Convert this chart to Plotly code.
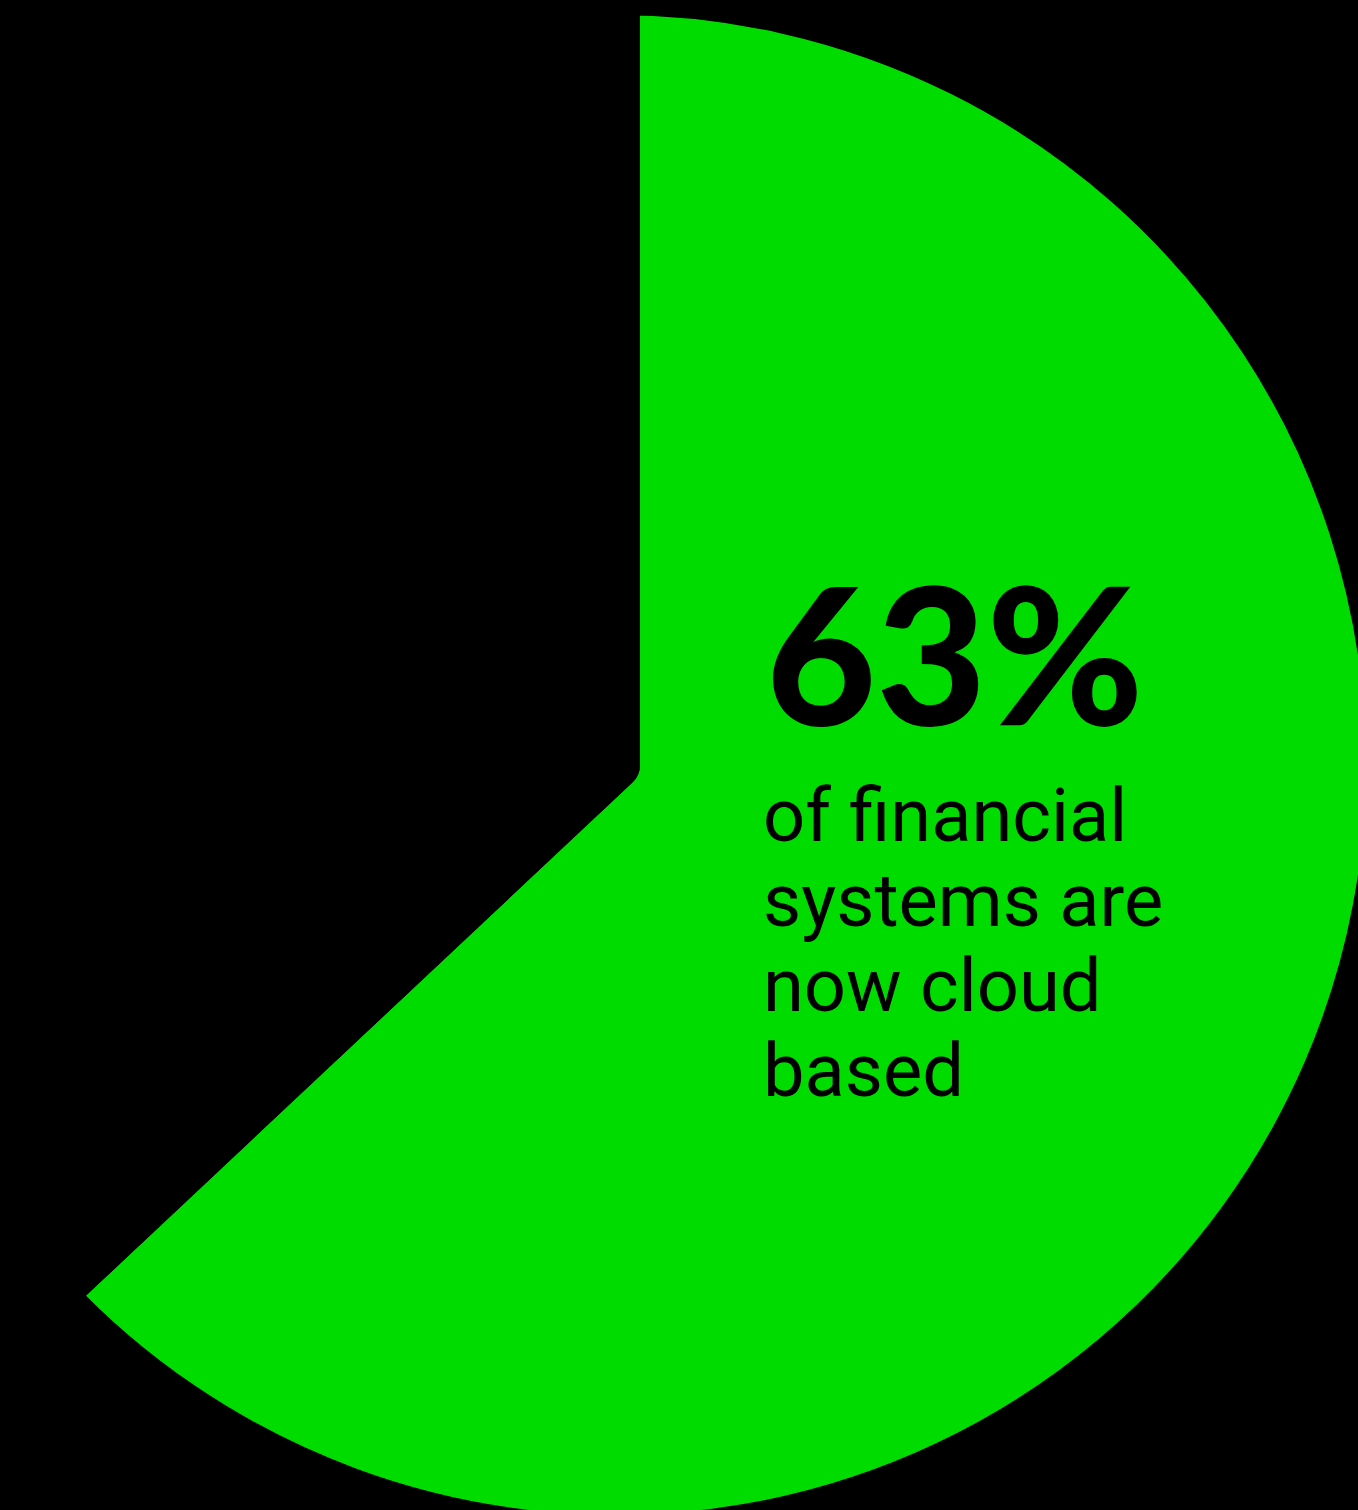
import plotly.graph_objects as go

# ---- data ----
labels = ["Cloud based", "Not cloud based"]
values = [63, 37]
colors = ["#00dc00", "#000000"]
headline = "63%"
body_lines = ["of financial", "systems are", "now cloud", "based"]

# ---- geometry of the (oversized) figure, shifted on the page ----
FIG = 1548          # square figure; pie radius = FIG/2
SHIFT_X, SHIFT_Y = 158, 9


def px(x):
    return (x + SHIFT_X) / FIG


def py(y):
    return 1 - (y + SHIFT_Y) / FIG


fig = go.Figure(
    go.Pie(
        labels=labels,
        values=values,
        sort=False,
        direction="clockwise",
        rotation=0,
        marker=dict(colors=colors, line=dict(color="#000000", width=48)),
        textinfo="none",
        hoverinfo="skip",
        showlegend=False,
        domain=dict(x=[0, 1], y=[0, 1]),
    )
)

annotations = [
    dict(
        text=headline,
        xref="paper", yref="paper",
        x=px(764), y=py(651),
        xanchor="left", yanchor="middle",
        showarrow=False,
        font=dict(family="Lato Black, Lato", size=190, color="#000000", weight=900),
    )
]
line_mid = [815, 900, 985, 1070]
for txt, ym in zip(body_lines, line_mid):
    annotations.append(
        dict(
            text=txt,
            xref="paper", yref="paper",
            x=px(761), y=py(ym),
            xanchor="left", yanchor="middle",
            showarrow=False,
            font=dict(family="Roboto", size=74, color="#000000"),
        )
    )

fig.update_layout(
    width=FIG,
    height=FIG,
    margin=dict(l=0, r=0, t=0, b=0),
    paper_bgcolor="#000000",
    plot_bgcolor="#000000",
    annotations=annotations,
    showlegend=False,
)

post_script = f"""
document.documentElement.style.background='#000';
document.documentElement.style.overflow='hidden';
document.body.style.margin='0';
document.body.style.background='#000';
document.body.style.overflow='hidden';
var gd=document.getElementById('{{plot_id}}');
gd.style.position='relative';
gd.style.left='-{SHIFT_X}px';
gd.style.top='-{SHIFT_Y}px';
"""

fig.write_html("out.html", post_script=post_script, config={"displayModeBar": False})
